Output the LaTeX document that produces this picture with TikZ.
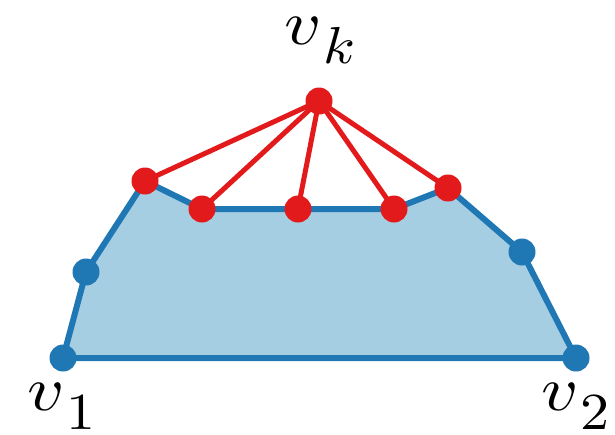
\documentclass[tikz,border=0pt]{standalone}
\usepackage{graphicx}
\usepackage{xcolor}
\definecolor{polyfill}{HTML}{A6CEE3}
\definecolor{polyline}{HTML}{1F78B4}
\definecolor{hullred}{HTML}{E31A1C}
\newcommand{\vlab}[1]{\scalebox{3.6}[3.15]{$v$}\kern1pt\raisebox{-9.5pt}{\scalebox{2.9}[2.6]{$#1$}}}
\begin{document}
\begin{tikzpicture}[x=0.5pt,y=-0.5pt,
  bluedot/.style={circle,fill=polyline,inner sep=0pt,minimum size=13.5pt},
  reddot/.style={circle,fill=hullred,inner sep=0pt,minimum size=13.5pt},
  edgeblue/.style={draw=polyline,line width=3pt,line join=round},
  edgered/.style={draw=hullred,line width=2.5pt},
  lbl/.style={anchor=base west,inner sep=0pt}]
\useasboundingbox (0,0) rectangle (615,434);
\coordinate (p1) at (63,358);
\coordinate (p2) at (86,272);
\coordinate (p3) at (145,181);
\coordinate (p4) at (202,209);
\coordinate (p5) at (298,209);
\coordinate (p6) at (394,209);
\coordinate (p7) at (448,188);
\coordinate (p8) at (522,252);
\coordinate (p9) at (576,358);
\coordinate (pk) at (319,101);
\fill[polyfill] (p1)--(p2)--(p3)--(p4)--(p5)--(p6)--(p7)--(p8)--(p9)--cycle;
\draw[edgeblue] (p1)--(p2)--(p3)--(p4)--(p5)--(p6)--(p7)--(p8)--(p9)--cycle;
\foreach \q in {p3,p4,p5,p6,p7} \draw[edgered] (pk)--(\q);
\foreach \q in {p1,p2,p8,p9} \node[bluedot] (d\q) at (\q) {};
\foreach \q in {p3,p4,p5,p6,p7,pk} \node[reddot] (d\q) at (\q) {};
\node[lbl] (lk) at (284,44) {\vlab{k}};
\node[lbl] (l1) at (27,410) {\vlab{1}};
\node[lbl] (l2) at (541,410) {\vlab{2}};
\end{tikzpicture}
\end{document}
